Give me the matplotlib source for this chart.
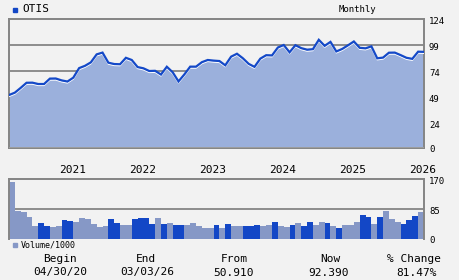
import numpy as np
import matplotlib
matplotlib.use("Agg")
import matplotlib.pyplot as plt
import matplotlib.transforms as mtransforms

# ---------------- data ----------------
ticker = "OTIS"
price = [50.91, 53.2, 57.8, 62.7, 62.8, 61.5, 61.5, 66.7, 66.8, 65.0,
         63.9, 67.6, 76.8, 79.0, 82.3, 90.0, 91.7, 82.0, 80.7, 80.5,
         86.7, 84.6, 77.8, 76.6, 74.0, 74.2, 70.6, 78.1, 72.8, 64.0,
         70.7, 78.2, 78.2, 82.5, 84.6, 84.0, 83.6, 79.5, 87.8, 90.6,
         86.3, 80.9, 78.0, 85.9, 89.2, 89.0, 96.6, 99.0, 92.0, 98.8,
         96.0, 94.5, 95.0, 104.0, 98.2, 102.0, 92.8, 95.2, 98.7, 102.4,
         96.3, 95.8, 97.7, 86.2, 86.9, 91.6, 91.7, 89.3, 86.7, 85.7,
         92.6, 92.39]
volume = [163, 80, 76, 63, 37, 45, 37, 33, 37, 54,
          50, 49, 60, 57, 42, 33, 37, 57, 45, 40,
          40, 57, 60, 60, 43, 60, 43, 45, 40, 40,
          40, 45, 37, 30, 30, 40, 30, 43, 37, 37,
          37, 37, 40, 37, 40, 49, 37, 33, 39, 45,
          36, 48, 39, 48, 45, 36, 30, 39, 39, 48,
          68, 62, 42, 62, 79, 56, 48, 42, 53, 65, 76]
vol_up = "LLLLLDDLLDDLLLLLLDDLLDDDDLDLDDLLLLLDLDLLDDDLLDLLDLDDLLDLDLLLDDLDLLLDDDL"
year_labels = ["2021", "2022", "2023", "2024", "2025", "2026"]
year_pos = [10.8, 22.8, 34.8, 46.8, 58.8, 70.8]
price_ticks = [0, 24, 49, 74, 99, 124]
vol_ticks = [0, 85, 170]
stats_head = ["Begin", "End", "From", "Now", "% Change"]
stats_val = ["04/30/20", "03/03/26", "50.910", "92.390", "81.47%"]

# ---------------- style ----------------
W, H = 460, 280
BG = "#f2f2f2"
FILL = "#9bb0dc"
LINE = "#1449c8"
DARK = "#1347c6"
LIGHT = "#8698c6"
GRID = "#858585"
FONT = "DejaVu Sans Mono"

fig = plt.figure(figsize=(W / 100, H / 100), dpi=100, facecolor=BG)

def fx(x):
    return x / W

def fy(y):
    return 1 - y / H

# main price axes
L, R = 9, 424
ax = fig.add_axes([fx(L), fy(148), (R - L) / W, (148 - 19) / H])
ax.set_facecolor(BG)
n = len(price)
xs = np.arange(n)
ax.set_xlim(0, n - 1)
ax.set_ylim(0, 124)
for t in price_ticks[1:-1]:
    ax.axhline(t, color=GRID, lw=1.3, zorder=1)
ax.fill_between(xs, price, 0, color=FILL, lw=0, zorder=2)
shadow = mtransforms.offset_copy(ax.transData, fig=fig, x=0, y=-1.4, units="dots")
ax.plot(xs, price, color="white", lw=1.0, zorder=3, transform=shadow)
ax.plot(xs, price, color=LINE, lw=1.6, zorder=4, solid_joinstyle="miter")
ax.axhline(0, color="white", lw=1.0, zorder=3)
for s in ax.spines.values():
    s.set_color(GRID)
    s.set_linewidth(1.4)
ax.set_xticks([])
ax.set_yticks([])
for t in price_ticks:
    ax.text(1.0, t, str(t), transform=mtransforms.offset_copy(
        mtransforms.blended_transform_factory(ax.transAxes, ax.transData),
        fig=fig, x=5, y=-2, units="dots"),
        ha="left", va="center", fontsize=6.5, family=FONT, color="black")

# volume axes
axv = fig.add_axes([fx(L), fy(238.7), (R - L) / W, (238.7 - 179.3) / H])
axv.set_facecolor(BG)
axv.set_xlim(0, len(volume))
axv.set_ylim(0, 170)
axv.axhline(85, color=GRID, lw=1.3, zorder=1)
cols = [DARK if c == "D" else LIGHT for c in vol_up]
axv.bar(np.arange(len(volume)) + 0.5, volume, width=1.0, color=cols, lw=0, zorder=2)
for k, s in axv.spines.items():
    s.set_color(GRID)
    s.set_linewidth(1.4)
axv.spines["bottom"].set_visible(False)
axv.set_xticks([])
axv.set_yticks([])
for t in vol_ticks:
    axv.text(1.0, t, str(t), transform=mtransforms.offset_copy(
        mtransforms.blended_transform_factory(axv.transAxes, axv.transData),
        fig=fig, x=5, y=-2, units="dots"),
        ha="left", va="center", fontsize=6.5, family=FONT, color="black")

# year labels
ytr = mtransforms.blended_transform_factory(ax.transData, fig.transFigure)
for p, lab in zip(year_pos, year_labels):
    ax.text(p, fy(170), lab, transform=ytr, ha="center", va="center",
            fontsize=8, family=FONT, color="black", clip_on=False)

# legend-like header
fig.patches.append(plt.Rectangle((fx(13), fy(12)), 4 / W, 4 / H,
                                 transform=fig.transFigure, color=DARK))
fig.text(fx(22), fy(9.5), ticker, ha="left", va="center", fontsize=8, family=FONT)
fig.text(fx(357), fy(9.5), "Monthly", ha="center", va="center", fontsize=6.5, family=FONT)

fig.patches.append(plt.Rectangle((fx(13), fy(247)), 4 / W, 4 / H,
                                 transform=fig.transFigure, color=LIGHT))
fig.text(fx(20.5), fy(245), "Volume/1000", ha="left", va="center", fontsize=6, family=FONT)

# stats
head_x = [60, 146, 234, 330, 414]
val_x = [60, 147, 234, 329, 417]
for hx, vx, h, v in zip(head_x, val_x, stats_head, stats_val):
    fig.text(fx(hx), fy(259), h, ha="center", va="center", fontsize=8, family=FONT)
    fig.text(fx(vx), fy(272.5), v, ha="center", va="center", fontsize=8, family=FONT)

fig.savefig("out.png", dpi=100, facecolor=BG)
